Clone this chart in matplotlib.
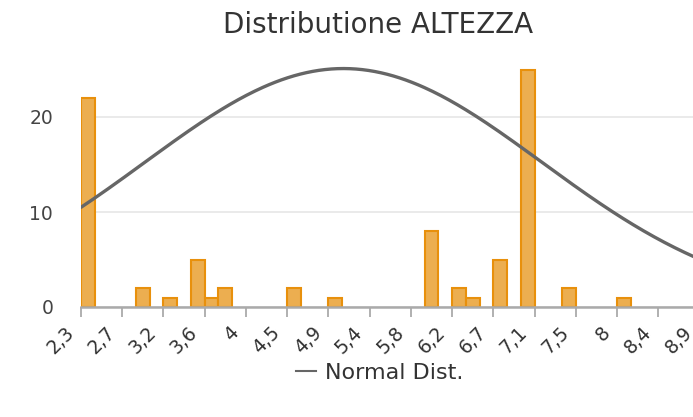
import numpy as np
import matplotlib
matplotlib.use("Agg")
import matplotlib.pyplot as plt
import matplotlib.transforms as mtransforms
from matplotlib.lines import Line2D

# histogram: 45 bins from 2.3 to 8.9
x_min, x_max, n_bins = 2.3, 8.9, 45
bin_index = [0, 4, 6, 8, 9, 10, 15, 18, 25, 27, 28, 30, 32, 35, 39]
counts = [22, 2, 1, 5, 1, 2, 2, 1, 8, 2, 1, 5, 25, 2, 1]

tick_labels = ["2,3", "2,7", "3,2", "3,6", "4", "4,5", "4,9", "5,4",
               "5,8", "6,2", "6,7", "7,1", "7,5", "8", "8,4", "8,9"]
y_ticks = [0, 10, 20]

# fitted normal curve
norm_mu, norm_sigma, norm_peak = 5.1, 2.12, 25.1

fig = plt.figure(figsize=(6.93, 4.17), dpi=100)
plt.rcParams["font.family"] = "DejaVu Sans"
ax = fig.add_axes([81/693, 110/417, 618.5/693, 256.5/417])

bw = (x_max - x_min) / n_bins
lefts = [x_min + i * bw for i in bin_index]
ax.bar(lefts, counts, width=bw, align="edge", color="#ecae50",
       edgecolor="#e8900c", linewidth=1.5, zorder=2)

xs = np.linspace(x_min, x_max, 300)
ys = norm_peak * np.exp(-(xs - norm_mu) ** 2 / (2 * norm_sigma ** 2))
ax.plot(xs, ys, color="#666666", lw=2.4, zorder=3, solid_capstyle="round")

ax.set_xlim(x_min, x_max)
ax.set_ylim(0, 27)
tick_pos = np.linspace(x_min, x_max, len(tick_labels))
ax.set_xticks(tick_pos)
ax.set_xticklabels([])
# x labels drawn by hand so they sit left/below the tick like the original
shift = mtransforms.ScaledTranslation(-10/100, -23/100, fig.dpi_scale_trans)
for xp, lab in zip(tick_pos, tick_labels):
    ax.text(xp, 0, lab, transform=ax.get_xaxis_transform() + shift,
            rotation=45, ha="right", va="center", rotation_mode="anchor",
            fontsize=13.5, color="#333333", clip_on=False)
ax.set_yticks(y_ticks)
ax.set_yticklabels([str(v) for v in y_ticks], fontsize=13.5, color="#444444")
ax.tick_params(axis="x", length=7, width=1.3, color="#aaaaaa")
ax.tick_params(axis="y", length=0, pad=20)
ax.grid(axis="y", color="#e6e6e6", lw=1.2, zorder=0)
for s in ["top", "right", "left"]:
    ax.spines[s].set_visible(False)
ax.spines["bottom"].set_color("#aaaaaa")
ax.spines["bottom"].set_linewidth(1.8)
ax.spines["bottom"].set_zorder(4)

fig.text(378/693, 1 - 25/417, "Distributione ALTEZZA", ha="center", va="center",
         fontsize=20, color="#333333")

handle = Line2D([], [], color="#666666", lw=1.5)
fig.legend([handle], ["Normal Dist."], loc="center", bbox_to_anchor=(380/693, 1 - 373/417),
           frameon=False, fontsize=16, handlelength=0.9, handletextpad=0.4,
           labelcolor="#333333")

fig.savefig("out.png", dpi=100)
